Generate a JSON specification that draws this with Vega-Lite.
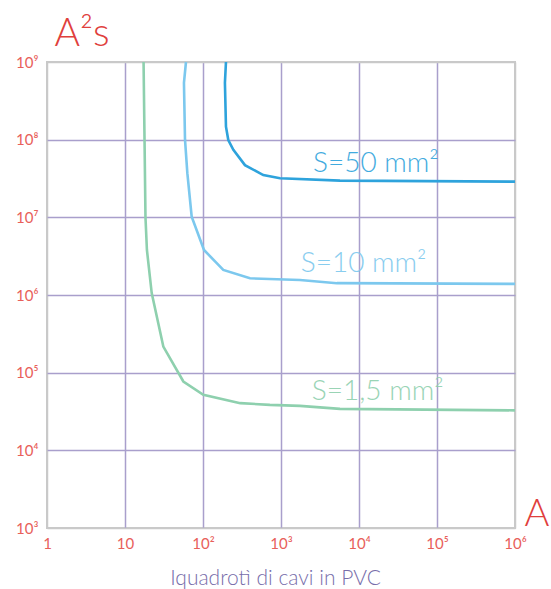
{
  "$schema": "https://vega.github.io/schema/vega-lite/v6.json",
  "width": 468,
  "height": 466,
  "autosize": {"type": "none"},
  "padding": {"left": 47, "top": 62, "right": 36, "bottom": 61},
  "background": "white",
  "config": {"view": {"stroke": "#c9c9c9", "strokeWidth": 2}, "font": "Lato"},
  "datasets": {
    "curves": [
      {"s": "1,5", "o": 1, "a": 17.3, "e": 1000000000},
      {"s": "1,5", "o": 2, "a": 17.8, "e": 100000000},
      {"s": "1,5", "o": 3, "a": 18.3, "e": 10000000},
      {"s": "1,5", "o": 4, "a": 19.1, "e": 3800000},
      {"s": "1,5", "o": 5, "a": 22, "e": 1060000},
      {"s": "1,5", "o": 6, "a": 31, "e": 217000},
      {"s": "1,5", "o": 7, "a": 56, "e": 77000},
      {"s": "1,5", "o": 8, "a": 101, "e": 52000},
      {"s": "1,5", "o": 9, "a": 300, "e": 40500},
      {"s": "1,5", "o": 10, "a": 720, "e": 38500},
      {"s": "1,5", "o": 11, "a": 1750, "e": 37400},
      {"s": "1,5", "o": 12, "a": 5700, "e": 34200},
      {"s": "1,5", "o": 13, "a": 1000000, "e": 32700},
      {"s": "10", "o": 1, "a": 60.5, "e": 1000000000},
      {"s": "10", "o": 2, "a": 57, "e": 540000000},
      {"s": "10", "o": 3, "a": 58.8, "e": 100000000},
      {"s": "10", "o": 4, "a": 63, "e": 37000000},
      {"s": "10", "o": 5, "a": 71.6, "e": 10200000},
      {"s": "10", "o": 6, "a": 103, "e": 3800000},
      {"s": "10", "o": 7, "a": 182, "e": 2100000},
      {"s": "10", "o": 8, "a": 400, "e": 1640000},
      {"s": "10", "o": 9, "a": 1750, "e": 1560000},
      {"s": "10", "o": 10, "a": 5200, "e": 1420000},
      {"s": "10", "o": 11, "a": 1000000, "e": 1390000},
      {"s": "50", "o": 1, "a": 197, "e": 1000000000},
      {"s": "50", "o": 2, "a": 191, "e": 540000000},
      {"s": "50", "o": 3, "a": 197, "e": 147000000},
      {"s": "50", "o": 4, "a": 211, "e": 99000000},
      {"s": "50", "o": 5, "a": 245, "e": 74000000},
      {"s": "50", "o": 6, "a": 345, "e": 47000000},
      {"s": "50", "o": 7, "a": 593, "e": 35000000},
      {"s": "50", "o": 8, "a": 971, "e": 31800000},
      {"s": "50", "o": 9, "a": 5700, "e": 29700000},
      {"s": "50", "o": 10, "a": 1000000, "e": 28800000}
    ],
    "labels": [
      {"s": "50", "t": "S=50 mm²", "a": 2570, "e": 38400000},
      {"s": "10", "t": "S=10 mm²", "a": 1790, "e": 1980000},
      {"s": "1,5", "t": "S=1,5 mm²", "a": 2476, "e": 44700}
    ]
  },
  "layer": [
    {
      "data": {"name": "curves"},
      "mark": {"type": "line", "strokeWidth": 2.6, "interpolate": "linear"},
      "encoding": {
        "x": {
          "field": "a", "type": "quantitative",
          "scale": {"type": "log", "domain": [1, 1000000]},
          "axis": {
            "values": [1, 10, 100, 1000, 10000, 100000, 1000000],
            "labelExpr": "datum.value == 1 ? '1' : datum.value == 10 ? '10' : datum.value == 100 ? '10²' : datum.value == 1000 ? '10³' : datum.value == 10000 ? '10⁴' : datum.value == 100000 ? '10⁵' : '10⁶'",
            "labelColor": "#e8605a", "labelFontSize": 15, "labelPadding": 8, "labelFlush": false,
            "ticks": false, "domain": false,
            "grid": true, "gridWidth": 1.5,
            "gridColor": {"condition": {"test": "datum.value == 1 || datum.value == 1000000", "value": "#c9c9c9"}, "value": "#a99fcc"},
            "title": "Iquadrotì di cavi in PVC",
            "titleColor": "#776daa", "titleFontSize": 21, "titleFontWeight": 300,
            "titleBaseline": "alphabetic", "titleAlign": "center", "titleX": 228, "titleY": 56
          }
        },
        "y": {
          "field": "e", "type": "quantitative",
          "scale": {"type": "log", "domain": [1000, 1000000000]},
          "axis": {
            "values": [1000, 10000, 100000, 1000000, 10000000, 100000000, 1000000000],
            "labelExpr": "datum.value == 1000 ? '10³' : datum.value == 10000 ? '10⁴' : datum.value == 100000 ? '10⁵' : datum.value == 1000000 ? '10⁶' : datum.value == 10000000 ? '10⁷' : datum.value == 100000000 ? '10⁸' : '10⁹'",
            "labelColor": "#e8605a", "labelFontSize": 15, "labelPadding": 9, "labelFlush": false, "labelDy": 3,
            "ticks": false, "domain": false,
            "grid": true, "gridWidth": 1.5,
            "gridColor": {"condition": {"test": "datum.value == 1000 || datum.value == 1000000000", "value": "#c9c9c9"}, "value": "#a99fcc"},
            "title": "A²s", "titleAngle": 0, "titleAlign": "left", "titleBaseline": "alphabetic",
            "titleX": 7, "titleY": -17, "titleFontSize": 39, "titleFontWeight": 300, "titleColor": "#e0403c"
          }
        },
        "color": {
          "field": "s", "type": "nominal",
          "scale": {"domain": ["50", "10", "1,5"], "range": ["#2ea3dc", "#7cc8ee", "#8ed0ae"]},
          "legend": null
        },
        "order": {"field": "o", "type": "quantitative"}
      }
    },
    {
      "data": {"name": "labels"},
      "mark": {"type": "text", "align": "left", "baseline": "alphabetic", "fontSize": 28, "fontWeight": 300, "opacity": 0.9},
      "encoding": {
        "x": {
          "field": "a", "type": "quantitative",
          "scale": {"type": "log", "domain": [1, 1000000]},
          "axis": {
            "values": [1, 10, 100, 1000, 10000, 100000, 1000000],
            "labelExpr": "datum.value == 1 ? '1' : datum.value == 10 ? '10' : datum.value == 100 ? '10²' : datum.value == 1000 ? '10³' : datum.value == 10000 ? '10⁴' : datum.value == 100000 ? '10⁵' : '10⁶'",
            "labelColor": "#e8605a", "labelFontSize": 15, "labelPadding": 8, "labelFlush": false,
            "ticks": false, "domain": false,
            "grid": true, "gridWidth": 1.5,
            "gridColor": {"condition": {"test": "datum.value == 1 || datum.value == 1000000", "value": "#c9c9c9"}, "value": "#a99fcc"},
            "title": "Iquadrotì di cavi in PVC",
            "titleColor": "#776daa", "titleFontSize": 21, "titleFontWeight": 300,
            "titleBaseline": "alphabetic", "titleAlign": "center", "titleX": 228, "titleY": 56
          }
        },
        "y": {
          "field": "e", "type": "quantitative",
          "scale": {"type": "log", "domain": [1000, 1000000000]},
          "axis": {
            "orient": "right", "labels": false, "ticks": false, "domain": false, "grid": false,
            "title": "A", "titleAngle": 0, "titleAlign": "left", "titleBaseline": "alphabetic",
            "titleX": 9, "titleY": 463, "titleFontSize": 38, "titleFontWeight": 300, "titleColor": "#e0403c"
          }
        },
        "text": {"field": "t"},
        "color": {
          "field": "s", "type": "nominal",
          "scale": {"domain": ["50", "10", "1,5"], "range": ["#2ea3dc", "#7cc8ee", "#8ed0ae"]},
          "legend": null
        }
      }
    }
  ],
  "resolve": {"axis": {"y": "independent"}}
}
